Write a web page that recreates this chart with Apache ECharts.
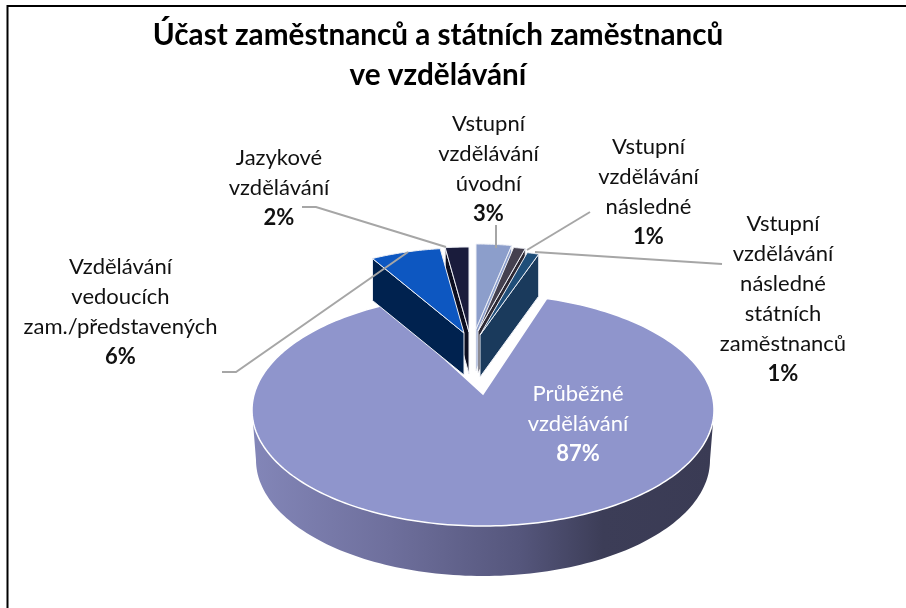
<!DOCTYPE html>
<html><head><meta charset="utf-8">
<style>html,body{margin:0;padding:0;background:#fff}#c{width:906px;height:608px}</style>
<script src="https://cdn.jsdelivr.net/npm/echarts@6/dist/echarts.min.js"></script>
</head><body><div id="c"></div>
<script>
var categories = [
  'Vstupní\nvzdělávání\núvodní',
  'Vstupní\nvzdělávání\nnásledné',
  'Vstupní\nvzdělávání\nnásledné\nstátních\nzaměstnanců',
  'Průběžné\nvzdělávání',
  'Vzdělávání\nvedoucích\nzam./představených',
  'Jazykové\nvzdělávání'
];
var values = [3, 1, 1, 87, 6, 2];
var titleLines = 'Účast zaměstnanců a státních zaměstnanců\nve vzdělávání';
var colors = ['#8c9ecb', '#44404f', '#1f4e79', '#8f95cc', '#0d57c1', '#1a1c3c'];
var wallColors = ['#8c9ecb', '#2c2833', '#1a3a5c', '#8f95cc', '#00224f', '#0c0e20'];

// Layout of the exploded 3D projection (per slice, same order as the values)
var apexX = [476, 478, 480, 483, 464, 469];
var apexY = [329, 331, 335, 394, 333, 332];
var FONT = 'Lato, Carlito, "Open Sans", sans-serif';
var labelAt = [[488.5, 169], [648.5, 192], [783, 299], [578, 424], [120.5, 312], [279, 188]];
var leaders = [
  [[496, 225], [496, 248]],
  [[590, 212], [527, 250]],
  [[722, 264], [535, 252]],
  null,
  [[222, 372], [236, 372], [408, 252]],
  [[302, 207], [316, 207], [446, 247]]
];

var total = values.reduce(function (a, b) { return a + b; }, 0);
var cumulative = [];
values.reduce(function (a, v, i) { cumulative[i] = a; return a + v; }, 0);
var TAU = Math.PI * 2;
var DEG = Math.PI / 180;

function arc(cx, cy, rx, ry, a0, a1, n) {
  var pts = [];
  for (var i = 0; i <= n; i++) {
    var a = a0 + (a1 - a0) * i / n;
    pts.push([cx + rx * Math.sin(a), cy - ry * Math.cos(a)]);
  }
  return pts;
}

function renderItem(params, api) {
  var i = params.dataIndex;
  var v = api.value(0);
  var a0 = cumulative[i] / total * TAU;
  var a1 = a0 + v / total * TAU;
  var children = [];
  var big = v > 50;
  var ax = apexX[i], ay = apexY[i];
  var edge = '#eef0f6';
  if (big) {
    var cx = 483, cy = 410, rx = 231, ry = 116, depth = 50;
    // perspective makes the front slice's rim look a little wider than its angle
    var tp = arc(cx, cy, rx, ry, a0 - 2 * DEG, a1 + 3.8 * DEG, 240);
    var side = arc(cx, cy, rx, ry, Math.PI / 2, Math.PI * 1.5, 120)
      .concat(arc(cx, cy + depth, rx - 4, ry, Math.PI * 1.5, Math.PI / 2, 120));
    children.push({
      type: 'polygon', z2: 1, shape: { points: side },
      style: { fill: new echarts.graphic.LinearGradient(0, 0, 1, 0, [
        { offset: 0, color: '#8386b8' }, { offset: 0.3, color: '#6e6f9c' },
        { offset: 0.58, color: '#55567c' }, { offset: 0.76, color: '#3c3d57' }, { offset: 1, color: '#3a3b54' }
      ]) }
    });
    children.push({
      type: 'polygon', z2: 2, shape: { points: [[ax, ay]].concat(tp) },
      style: { fill: colors[i], stroke: '#ffffff', lineWidth: 1.5, lineJoin: 'miter' }
    });
  } else {
    var srx = 190, sry = 85, sdepth = 42;
    var tp2 = arc(ax, ay, srx, sry, a0, a1, 24);
    var rightSide = a1 < Math.PI;
    var wallA = rightSide ? a1 : a0;
    var rim = arc(ax, ay, srx, sry, wallA, wallA, 1)[0];
    var wall = [[ax, ay], rim, [rim[0], rim[1] + sdepth], [ax, ay + sdepth]];
    var order = [5, 0, 1, 4, 2].indexOf(i) * 2 + 4;
    children.push({
      type: 'polygon', z2: order, shape: { points: wall },
      style: { fill: wallColors[i], stroke: edge, lineWidth: 1, lineJoin: 'round' }
    });
    children.push({
      type: 'polygon', z2: order + 1, shape: { points: [[ax, ay]].concat(tp2) },
      style: { fill: colors[i], stroke: edge, lineWidth: 1, lineJoin: 'round' }
    });
  }
  if (leaders[i]) {
    children.push({
      type: 'polyline', z2: 30, shape: { points: leaders[i] },
      style: { stroke: '#a6a6a6', lineWidth: 2, fill: 'none' }
    });
  }
  var pct = Math.round(v / total * 100) + '%';
  var textFill = big ? '#ffffff' : '#111111';
  children.push({
    type: 'text', z2: 40, x: labelAt[i][0], y: labelAt[i][1],
    style: {
      text: '{n|' + api.value(1).split('\n').join('}\n{n|') + '}\n{b|' + pct + '}',
      align: 'center', verticalAlign: 'middle',
      rich: {
        n: { font: '22px ' + FONT, lineHeight: 30, fill: textFill, align: 'center' },
        b: { font: 'bold 22px ' + FONT, lineHeight: 30, fill: textFill, align: 'center' }
      }
    }
  });
  return { type: 'group', children: children };
}

var chart = echarts.init(document.getElementById('c'), null, { renderer: 'canvas' });
chart.setOption({
  animation: false,
  backgroundColor: '#ffffff',
  title: {
    text: titleLines, left: 433, top: 10, textAlign: 'center',
    textStyle: { fontFamily: FONT, fontWeight: 'bold', fontSize: 29.7, lineHeight: 40, color: '#000000' }
  },
  graphic: [{
    type: 'polyline', silent: true,
    shape: { points: [[7.5, 608], [7.5, 6], [906, 6]] },
    style: { stroke: '#000000', lineWidth: 2, fill: 'none' }
  }],
  series: [{
    type: 'custom', coordinateSystem: 'none', renderItem: renderItem,
    data: values.map(function (v, i) { return [v, categories[i]]; }),
    dimensions: ['value', { name: 'category', type: 'ordinal' }],
    encode: { value: 0 }
  }]
});
</script></body></html>
